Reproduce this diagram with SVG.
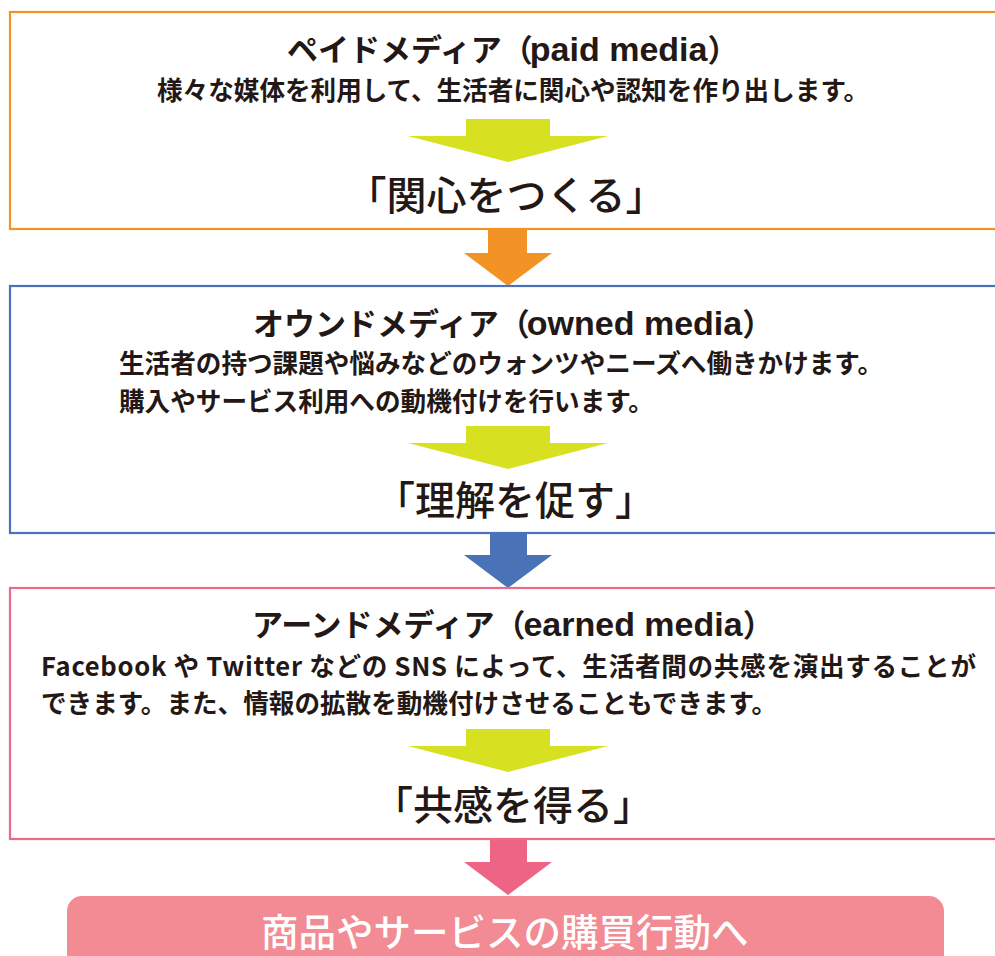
<svg xmlns="http://www.w3.org/2000/svg" width="995" height="956" viewBox="0 0 995 956">
<style>
text{font-family:"Noto Sans CJK JP","Noto Sans",sans-serif;fill:#231815}
.title{font-size:31px;font-weight:700}
.lat{font-family:"Liberation Sans","Noto Sans",sans-serif;font-size:34px;font-weight:700}
.body{font-size:25.6px;font-weight:700}
.big{font-size:40px;font-weight:500;text-anchor:middle}
.lime{fill:#D7E021}
.box{fill:#fff;stroke-width:2.2}
</style>
<rect width="995" height="956" fill="#fff"/>
<g id="connectors">
<polygon id="arrow-orange" fill="#F39325" points="488,229 527,229 527,253 552,253 508,286 464,253 488,253"/>
<polygon id="arrow-blue" fill="#4A72B7" points="490,533 527,533 527,555 552,555 508,588 464,555 490,555"/>
<polygon id="arrow-pink" fill="#EE6485" points="490,840 527,840 527,862 552,862 508,895 464,862 490,862"/>
</g>
<g id="paid-media">
<rect class="box" x="10" y="12" width="1000" height="217" stroke="#F39325"/>
<text class="title" x="287" y="61">ペイドメディア（<tspan class="lat" dx="-3">paid media</tspan>）</text>
<text class="body" x="157" y="100">様々な媒体を利用して、生活者に関心や認知を作り出します。</text>
<polygon class="lime" points="466,119 550,119 550,136 608,136 508,162 408,136 466,136"/>
<text class="big" x="506" y="210">「関心をつくる」</text>
</g>
<g id="owned-media">
<rect class="box" x="10" y="286" width="1000" height="247" stroke="#4A72B7"/>
<text class="title" x="253" y="335">オウンドメディア（<tspan class="lat" dx="-3">owned media</tspan>）</text>
<text class="body" x="119" y="373">生活者の持つ課題や悩みなどのウォンツやニーズへ働きかけます。</text>
<text class="body" x="119" y="411">購入やサービス利用への動機付けを行います。</text>
<polygon class="lime" points="466,426 550,426 550,443 608,443 508,469 408,443 466,443"/>
<text class="big" x="515" y="515">「理解を促す」</text>
</g>
<g id="earned-media">
<rect class="box" x="10" y="588" width="1000" height="251" stroke="#EA6A87"/>
<text class="title" x="252" y="636">アーンドメディア（<tspan class="lat" dx="-2">earned media</tspan>）</text>
<text class="body" x="41" y="676" textLength="935">Facebook や Twitter などの SNS によって、生活者間の共感を演出することが</text>
<text class="body" x="41" y="713">できます。また、情報の拡散を動機付けさせることもできます。</text>
<polygon class="lime" points="466,729 550,729 550,746 608,746 508,772 408,746 466,746"/>
<text class="big" x="513" y="820">「共感を得る」</text>
</g>
<g id="purchase">
<rect x="67" y="896" width="877" height="90" rx="15" fill="#F28B93"/>
<text x="261" y="946" style="font-size:37.5px;font-weight:500;fill:#fff">商品やサービスの購買行動へ</text>
</g>
</svg>
